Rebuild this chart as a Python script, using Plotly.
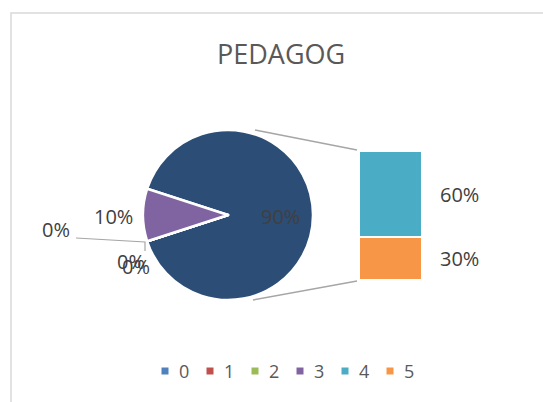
import plotly.graph_objects as go

# ---- data ----
categories = ["0", "1", "2", "3", "4", "5"]
values = [0, 0, 0, 1, 6, 3]
colors = ["#4F81BD", "#C0504D", "#9BBB59", "#8064A2", "#4BACC6", "#F79646"]
pie_cats = ["0", "1", "2", "3"]
bar_cats = ["4", "5"]
other_label = "Other"
other_color = "#2C4D75"
title_text = "PEDAGOG"

W, H = 543, 402


def px(x):
    return x / W


def py(y):
    return 1 - y / H


vals = dict(zip(categories, values))
cols = dict(zip(categories, colors))
total = sum(values)
other = sum(vals[c] for c in bar_cats)


def pct(v):
    return "{:.0%}".format(v / total)


fig = go.Figure()

# pie (primary)
pie_labels = [other_label] + pie_cats
pie_values = [other] + [vals[c] for c in pie_cats]
pie_colors = [other_color] + [cols[c] for c in pie_cats]
cx, cy, r = 228, 215, 85
fig.add_trace(go.Pie(
    labels=pie_labels, values=pie_values, sort=False, direction="clockwise",
    rotation=-72, textinfo="none", hoverinfo="label+percent",
    marker=dict(colors=pie_colors, line=dict(color="white", width=2.5)),
    domain=dict(x=[px(cx - r), px(cx + r)], y=[py(cy + r), py(cy - r)]),
    showlegend=False,
))

# stacked bar (secondary) - bottom first
stack_order = bar_cats[::-1]
for c in stack_order:
    fig.add_trace(go.Bar(
        x=[0], y=[vals[c]], width=1, name=c, showlegend=False,
        marker=dict(color=cols[c], line=dict(color="white", width=2)),
        xaxis="x", yaxis="y", hoverinfo="name+y",
    ))

# legend drawn as a categorical marker row
fig.add_trace(go.Scatter(
    x=categories, y=[0] * len(categories), mode="markers",
    marker=dict(symbol="square", size=7, color=colors),
    xaxis="x2", yaxis="y2", showlegend=False, hoverinfo="skip",
    cliponaxis=False,
))

lab_font = dict(family="Open Sans", size=20, color="#404040")
annotations = []
for c in categories:
    annotations.append(dict(
        x=c, y=0, xref="x2", yref="y2", text=c, showarrow=False,
        xanchor="left", yanchor="middle", xshift=12,
        font=dict(family="Open Sans", size=18, color="#595959")))

# bar labels
base = 0
for c in stack_order:
    annotations.append(dict(
        x=px(460), y=base + vals[c] / 2, xref="paper", yref="y", text=pct(vals[c]),
        showarrow=False, font=lab_font, xanchor="center", yanchor="middle"))
    base += vals[c]

# pie labels
pie_lab = [(pct(other), 280, 216), (pct(vals["3"]), 113, 216),
           (pct(vals["0"]), 56, 230), (pct(vals["1"]), 131, 261),
           (pct(vals["2"]), 136, 266)]
for t, x0, y0 in pie_lab:
    annotations.append(dict(x=px(x0), y=py(y0), xref="paper", yref="paper",
                            text=t, showarrow=False, font=lab_font,
                            xanchor="center", yanchor="middle"))

annotations.append(dict(x=px(281), y=py(53), xref="paper", yref="paper",
                        text=title_text, showarrow=False, xanchor="center",
                        yanchor="middle",
                        font=dict(family="Open Sans", size=27, color="#595959")))

line_col = "#A6A6A6"
shapes = [
    dict(type="rect", xref="paper", yref="paper", x0=px(11), y0=py(13),
         x1=px(600), y1=py(460), line=dict(color="#D9D9D9", width=1.5)),
    dict(type="line", xref="paper", yref="paper", x0=px(255), y0=py(130),
         x1=px(357), y1=py(150), line=dict(color=line_col, width=1.5)),
    dict(type="line", xref="paper", yref="paper", x0=px(253), y0=py(300),
         x1=px(357), y1=py(281), line=dict(color=line_col, width=1.5)),
    dict(type="path", xref="paper", yref="paper",
         path="M {} {} L {} {} L {} {}".format(px(76), py(238), px(145), py(242),
                                              px(145), py(251)),
         line=dict(color=line_col, width=1.2)),
]

fig.update_layout(
    width=W, height=H, margin=dict(l=0, r=0, t=0, b=0),
    paper_bgcolor="white", plot_bgcolor="white",
    barmode="stack", bargap=0,
    xaxis=dict(domain=[px(359), px(422)], range=[-0.5, 0.5], visible=False,
               fixedrange=True),
    yaxis=dict(domain=[py(280), py(151)], range=[0, other], visible=False,
               fixedrange=True),
    xaxis2=dict(domain=[px(142.5), px(412.5)], range=[-0.5, 5.5],
                type="category", visible=False, fixedrange=True, anchor="y2"),
    yaxis2=dict(domain=[py(381), py(361)], range=[-1, 1], visible=False,
                fixedrange=True, anchor="x2"),
    showlegend=False,
    annotations=annotations, shapes=shapes,
    font=dict(family="Open Sans"),
)

fig.write_html("out.html", config={"displayModeBar": False},
               post_script="document.body.style.margin='0';"
                           "document.body.style.overflow='hidden';")
